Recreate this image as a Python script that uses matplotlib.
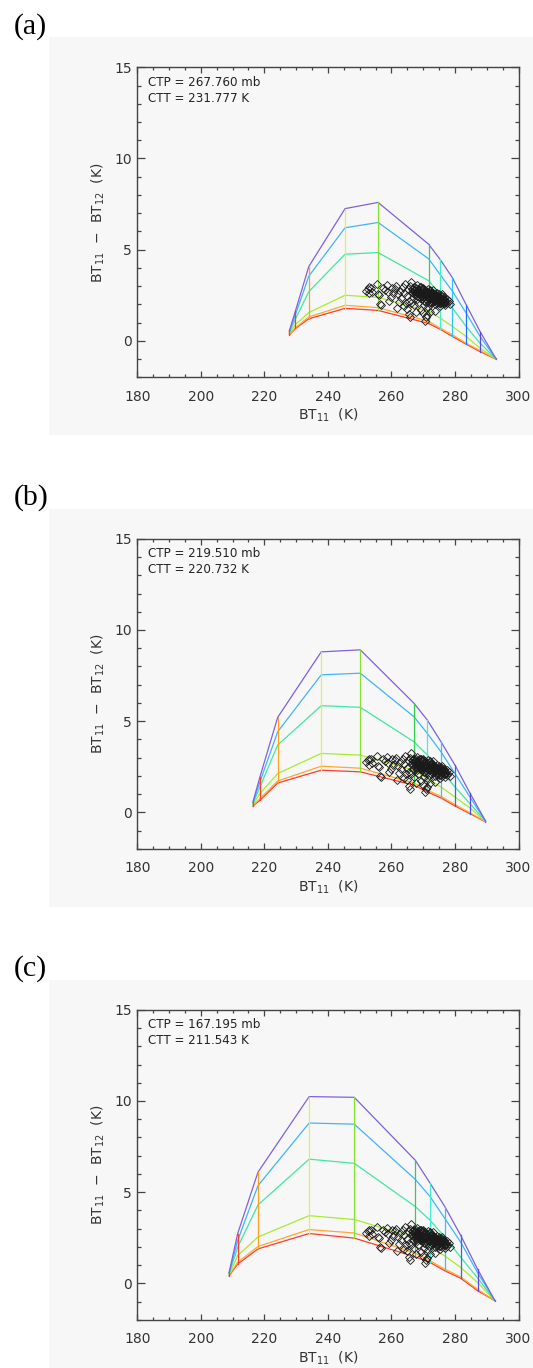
import matplotlib
matplotlib.use("Agg")
from matplotlib import pyplot as plt
from matplotlib.ticker import MultipleLocator
from matplotlib.patches import Rectangle

plt.rcParams["font.family"] = ["DejaVu Sans"]
plt.rcParams["mathtext.fontset"] = "dejavusans"

# ---- lookup-table grid: 11 columns (BT11 positions), 6 curves per panel ----
cols_a = [227.9, 229.8, 234.0, 245.4, 255.8, 271.7, 275.3, 279.2, 283.5, 287.9, 292.8]
rows_a = [
    [0.33, 0.68, 1.21, 1.78, 1.67, 0.95, 0.64, 0.24, -0.18, -0.59, -1.00],
    [0.36, 0.72, 1.31, 1.95, 1.82, 1.07, 0.70, 0.33, -0.13, -0.53, -0.99],
    [0.42, 0.90, 1.55, 2.50, 2.38, 1.62, 1.25, 0.79, 0.24, -0.40, -0.98],
    [0.47, 1.20, 2.70, 4.75, 4.84, 3.30, 2.54, 1.80, 0.79, -0.13, -0.97],
    [0.52, 1.45, 3.55, 6.20, 6.49, 4.50, 3.64, 2.72, 1.53, 0.24, -0.96],
    [0.57, 1.65, 4.08, 7.25, 7.59, 5.30, 4.47, 3.46, 1.99, 0.51, -0.95],
]

cols_b = [216.4, 218.6, 224.2, 237.9, 250.2, 267.1, 271.3, 275.6, 280.0, 284.7, 289.6]
rows_b = [
    [0.35, 0.66, 1.61, 2.31, 2.22, 1.49, 1.12, 0.79, 0.35, -0.07, -0.52],
    [0.38, 0.75, 1.72, 2.53, 2.42, 1.61, 1.21, 0.88, 0.42, -0.02, -0.51],
    [0.42, 1.03, 2.13, 3.23, 3.14, 2.31, 1.85, 1.39, 0.84, 0.24, -0.50],
    [0.47, 1.39, 3.69, 5.85, 5.76, 3.87, 3.14, 2.31, 1.39, 0.48, -0.49],
    [0.52, 1.67, 4.42, 7.54, 7.63, 5.24, 4.33, 3.32, 2.13, 0.84, -0.48],
    [0.57, 1.94, 5.21, 8.80, 8.91, 5.98, 5.06, 3.87, 2.59, 1.06, -0.47],
]

cols_c = [208.9, 211.6, 218.0, 234.1, 248.3, 267.5, 272.1, 276.8, 281.8, 287.1, 292.5]
rows_c = [
    [0.41, 1.06, 1.89, 2.73, 2.48, 1.45, 1.15, 0.69, 0.28, -0.40, -0.95],
    [0.44, 1.15, 2.02, 2.95, 2.76, 1.65, 1.24, 0.78, 0.35, -0.33, -0.95],
    [0.48, 1.52, 2.54, 3.71, 3.50, 2.50, 2.00, 1.50, 0.87, 0.05, -0.94],
    [0.52, 1.98, 4.30, 6.81, 6.58, 4.21, 3.47, 2.54, 1.43, 0.30, -0.94],
    [0.56, 2.35, 5.36, 8.79, 8.73, 5.70, 4.77, 3.56, 2.26, 0.59, -0.93],
    [0.59, 2.73, 6.10, 10.24, 10.20, 6.75, 5.51, 4.21, 2.63, 0.78, -0.93],
]

ctp = ["267.760", "219.510", "167.195"]
ctt = ["231.777", "220.732", "211.543"]
panel_tags = ["(a)", "(b)", "(c)"]

# observed pixels (same in all panels)
scat_x = [252.0, 252.5, 253.0, 253.5, 252.8, 254.0, 255.5, 255.8, 256.0, 256.4,
          256.8, 257.5, 258.0, 258.5, 259.0, 259.2, 259.8, 260.2, 260.5, 261.0,
          261.5, 261.8, 262.2, 262.8, 263.0, 263.5, 264.0, 264.3, 264.8, 265.2,
          265.4, 265.9, 265.6, 266.0, 266.3, 266.5, 266.8, 267.0, 267.2, 267.5,
          267.8, 268.0, 268.2, 268.5, 268.7, 269.0, 269.2, 269.4, 269.6, 269.9,
          270.1, 270.3, 270.6, 270.8, 270.5, 270.9, 271.1, 271.2, 271.5, 271.7,
          271.9, 272.2, 272.4, 272.6, 272.8, 273.0, 273.2, 273.4, 273.6, 273.8,
          274.0, 274.2, 274.4, 274.6, 274.8, 275.0, 275.2, 275.4, 275.6, 275.8,
          276.0, 276.2, 276.5, 276.8, 277.0, 277.3, 277.6, 278.0, 278.3, 268.3,
          267.6, 269.8, 270.4, 271.4, 272.0, 266.2, 265.0, 264.5, 263.8, 262.5,
          268.9, 269.3, 270.0, 270.7, 271.3, 272.1, 272.9, 273.5, 274.1, 275.1,
          267.4, 268.1, 269.7, 271.8, 273.7, 276.4, 277.4, 266.9, 267.9, 268.6,
          269.5, 270.2, 271.0, 271.6, 272.3, 272.7, 273.3, 273.9, 274.5, 275.3,
          266.4, 266.7, 267.1, 267.3, 267.7, 268.0, 268.4, 268.8, 269.1, 269.4,
          269.8, 270.0, 270.3, 270.6, 270.9, 271.2, 271.5, 271.8, 272.0, 272.3,
          272.5, 272.8, 273.1, 273.4, 273.7, 274.0, 274.3, 274.6, 274.9, 275.2,
          275.5, 275.9, 276.2, 276.6, 277.0, 276.0, 275.0, 273.0, 270.8, 269.2]
scat_y = [2.75, 2.85, 2.60, 2.90, 2.95, 2.70, 3.10, 2.55, 2.50, 2.00,
          1.95, 2.90, 2.80, 3.05, 2.70, 2.20, 2.40, 2.90, 2.60, 2.85,
          3.00, 1.80, 2.55, 2.75, 2.35, 2.95, 2.65, 3.10, 2.45, 2.85,
          1.45, 1.30, 2.20, 3.00, 3.25, 2.70, 2.40, 2.95, 1.95, 2.80,
          2.55, 3.05, 2.30, 2.85, 2.65, 2.95, 1.70, 2.45, 2.75, 2.90,
          2.55, 2.20, 1.10, 1.30, 2.80, 2.65, 1.40, 2.40, 2.85, 2.60,
          2.30, 2.75, 2.50, 2.10, 2.65, 2.40, 2.80, 2.20, 2.55, 1.65,
          2.35, 2.60, 2.05, 2.45, 2.25, 2.55, 1.90, 2.35, 2.15, 2.45,
          2.00, 2.30, 2.10, 2.25, 1.95, 2.15, 2.05, 2.20, 2.00, 2.10,
          1.60, 1.50, 1.95, 1.85, 1.60, 2.10, 1.75, 2.10, 1.90, 2.15,
          2.50, 2.60, 2.40, 2.50, 2.70, 2.45, 2.30, 2.45, 2.15, 2.20,
          2.65, 2.75, 2.30, 2.05, 2.00, 2.40, 2.30, 2.85, 2.70, 2.55,
          2.80, 2.65, 2.55, 2.35, 2.60, 2.20, 2.50, 2.30, 2.40, 2.05,
          2.85, 2.60, 2.75, 2.50, 2.90, 2.45, 2.60, 2.80, 2.35, 2.70,
          2.55, 2.85, 2.45, 2.70, 2.30, 2.55, 2.65, 2.45, 2.80, 2.35,
          2.65, 2.50, 2.60, 2.35, 2.50, 2.25, 2.45, 2.30, 2.45, 2.30,
          2.25, 2.30, 2.15, 2.30, 2.10, 2.55, 2.05, 2.15, 2.15, 2.95]

row_colors = ["#ff3a2a", "#ffa830", "#a8ec30", "#40e8a0", "#40b4ff", "#8060e0"]
col_colors = ["#ff3a2a", "#ff3a2a", "#ffa020", "#e4f048", "#88e030", "#30d048",
              "#40f0d0", "#30c4ff", "#2070ff", "#5a48e0", "#8060e0"]

W, H = 533.0, 1368.0


def box(left, top, w, h):
    return [left / W, 1 - (top + h) / H, w / W, h / H]


fig = plt.figure(figsize=(W / 100, H / 100), dpi=100)

panels = [(cols_a, rows_a), (cols_b, rows_b), (cols_c, rows_c)]
offsets = [0.0, 471.5, 942.5]

for i, (cols, rows) in enumerate(panels):
    dy = offsets[i]
    # grey page behind each plot
    fig.add_artist(Rectangle((49.3 / W, 1 - (435 + dy) / H), (W - 49.3) / W, 397.5 / H,
                             transform=fig.transFigure, fc="#f7f7f7", ec="none", zorder=-1))
    fig.text(13.6 / W, 1 - (33.6 + dy) / H, panel_tags[i], family="Liberation Serif",
             fontsize=21.5, va="baseline")

    ax = fig.add_axes(box(137.3, 67.3 + dy, 381.2, 310))
    ax.set_facecolor("none")

    for r in range(len(rows)):
        ax.plot(cols, rows[r], color=row_colors[r], lw=0.9)
    for c in range(len(cols)):
        ax.plot([cols[c]] * len(rows), [rows[r][c] for r in range(len(rows))],
                color=col_colors[c], lw=0.9)

    ax.plot(scat_x, scat_y, ls="none", marker="D", ms=3.7, mfc="none",
            mec="#1a1a1a", mew=0.6)

    ax.set_xlim(180, 300)
    ax.set_ylim(-2, 15)
    ax.xaxis.set_major_locator(MultipleLocator(20))
    ax.xaxis.set_minor_locator(MultipleLocator(5))
    ax.yaxis.set_major_locator(MultipleLocator(5))
    ax.yaxis.set_minor_locator(MultipleLocator(1))
    ax.tick_params(which="both", direction="in", top=True, right=True,
                   color="#444444", width=0.9, labelsize=10, labelcolor="#333333")
    ax.tick_params(axis="x", which="major", length=4.5, pad=9)
    ax.tick_params(axis="x", which="minor", length=2.2)
    ax.tick_params(axis="y", which="major", length=5.5, pad=4)
    ax.tick_params(axis="y", which="minor", length=2.75)
    for s in ax.spines.values():
        s.set_color("#444444")
        s.set_linewidth(1.0)

    ax.set_xlabel("BT$_{11}$  (K)", fontsize=10, color="#333333")
    ax.xaxis.set_label_coords(0.5, -0.095)
    ax.set_ylabel("BT$_{11}$  \u2212  BT$_{12}$  (K)", fontsize=10, color="#333333", va="center")
    ax.yaxis.set_label_coords(-0.102, 0.5)

    ax.text(0.029, 0.94, "CTP = " + ctp[i] + " mb", transform=ax.transAxes,
            fontsize=8.6, color="#222222")
    ax.text(0.029, 0.889, "CTT = " + ctt[i] + " K", transform=ax.transAxes,
            fontsize=8.6, color="#222222")

fig.savefig("out.png", dpi=100)
